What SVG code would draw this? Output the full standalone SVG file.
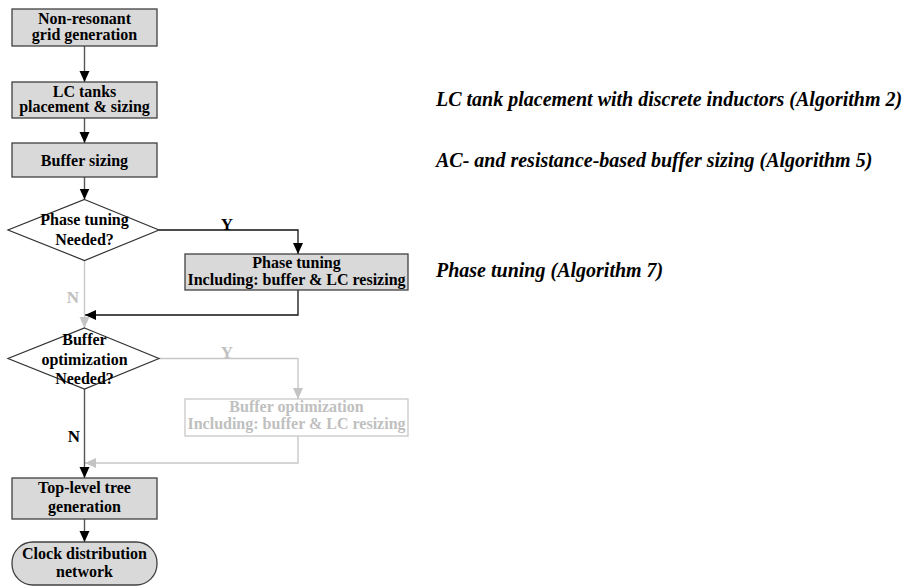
<svg xmlns="http://www.w3.org/2000/svg" width="906" height="588" viewBox="0 0 906 588">
<defs>
<marker id="ah" markerUnits="userSpaceOnUse" markerWidth="12" markerHeight="12" viewBox="0 0 12 12" refX="11" refY="6" orient="auto">
<path d="M0,1 L11,6 L0,11 Z" fill="#000"/>
</marker>
<marker id="ahg" markerUnits="userSpaceOnUse" markerWidth="12" markerHeight="12" viewBox="0 0 12 12" refX="11" refY="6" orient="auto">
<path d="M0,1 L11,6 L0,11 Z" fill="#c4c4c4"/>
</marker>
<style>
.box{fill:#d9d9d9;stroke:#404040;stroke-width:1.3}
.dia{fill:#fff;stroke:#333;stroke-width:1.2}
.gbox{fill:#fff;stroke:#c8c8c8;stroke-width:1.3}
.t{font-family:"Liberation Serif","Times New Roman",serif;font-weight:bold;font-size:16px;fill:#000;text-anchor:middle}
.gt{fill:#c0c0c0}
.lab{font-family:"Liberation Serif","Times New Roman",serif;font-weight:bold;font-size:17px;text-anchor:middle}
.note{font-family:"Liberation Serif","Times New Roman",serif;font-weight:bold;font-style:italic;font-size:20px;fill:#000}
.c{fill:none;stroke:#555;stroke-width:1.4}
.cb{fill:none;stroke:#111;stroke-width:1.3}
.cg{fill:none;stroke:#c8c8c8;stroke-width:1.4}
</style>
</defs>
<g id="connectors">
<path class="c" d="M84.5,46 V82" marker-end="url(#ah)"/>
<path class="c" d="M84.5,118 V143" marker-end="url(#ah)"/>
<path class="c" d="M84.5,177 V199.5" marker-end="url(#ah)"/>
<path class="cb" d="M159,230 H298 V254" marker-end="url(#ah)"/>
<path class="cb" d="M298,290 V315 H85" marker-end="url(#ah)"/>
<path class="cg" d="M84.5,260.5 V328" marker-end="url(#ahg)"/>
<path class="cg" d="M159,358.5 H298 V399" marker-end="url(#ahg)"/>
<path class="cg" d="M298,436 V463 H85" marker-end="url(#ahg)"/>
<path class="c" d="M84.5,389 V478" marker-end="url(#ah)"/>
<path class="c" d="M84.5,519 V542" marker-end="url(#ah)"/>
<text class="lab" x="227" y="230">Y</text>
<text class="lab gt" x="73" y="303" font-size="15">N</text>
<text class="lab gt" x="227" y="358">Y</text>
<text class="lab" x="74" y="442" font-size="15">N</text>
</g>
<g id="n1">
<rect class="box" x="12" y="9" width="145" height="37"/>
<text class="t" x="84.5" y="24">Non-resonant</text>
<text class="t" x="84.5" y="39.5">grid generation</text>
</g>
<g id="n2">
<rect class="box" x="12" y="82" width="145" height="36"/>
<text class="t" x="84.5" y="96.5">LC tanks</text>
<text class="t" x="84.5" y="112">placement &amp; sizing</text>
</g>
<g id="n3">
<rect class="box" x="12" y="143" width="145" height="34"/>
<text class="t" x="84.5" y="165.5">Buffer sizing</text>
</g>
<g id="d1">
<path class="dia" d="M84.5,199.5 L159,230 L84.5,260.5 L8,230 Z"/>
<text class="t" x="84.5" y="225">Phase tuning</text>
<text class="t" x="84.5" y="244.5">Needed?</text>
</g>
<g id="n4">
<rect class="box" x="185" y="254" width="223" height="36"/>
<text class="t" x="296.5" y="268">Phase tuning</text>
<text class="t" x="296.5" y="285">Including: buffer &amp; LC resizing</text>
</g>
<g id="d2">
<path class="dia" d="M84.5,328 L159,358.5 L84.5,389 L8,358.5 Z"/>
<text class="t" x="84.5" y="345">Buffer</text>
<text class="t" x="84.5" y="364.5">optimization</text>
<text class="t" x="84.5" y="384">Needed?</text>
</g>
<g id="n5">
<rect class="gbox" x="185" y="399" width="223" height="37"/>
<text class="t gt" x="296.5" y="412">Buffer optimization</text>
<text class="t gt" x="296.5" y="428.5">Including: buffer &amp; LC resizing</text>
</g>
<g id="n6">
<rect class="box" x="12" y="478" width="145" height="41"/>
<text class="t" x="84.5" y="493">Top-level tree</text>
<text class="t" x="84.5" y="511.5">generation</text>
</g>
<g id="n7">
<rect class="box" x="12" y="542" width="145" height="43" rx="21" ry="21"/>
<text class="t" x="84.5" y="559">Clock distribution</text>
<text class="t" x="84.5" y="577">network</text>
</g>
<g id="notes">
<text class="note" x="436" y="105.5">LC tank placement with discrete inductors (Algorithm 2)</text>
<text class="note" x="436" y="166.5">AC- and resistance-based buffer sizing (Algorithm 5)</text>
<text class="note" x="436" y="277">Phase tuning (Algorithm 7)</text>
</g>
</svg>
